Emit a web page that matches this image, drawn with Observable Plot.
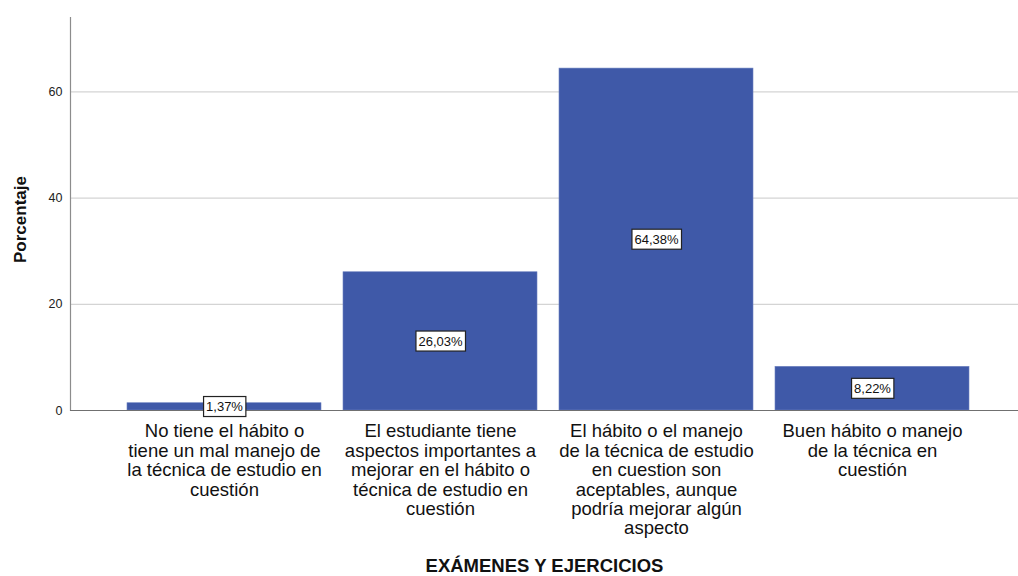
<!DOCTYPE html>
<html>
<head>
<meta charset="utf-8">
<script src="https://cdn.jsdelivr.net/npm/d3@7"></script>
<script src="https://cdn.jsdelivr.net/npm/@observablehq/plot@0.6"></script>
<style>
  html, body { margin: 0; padding: 0; background: #fff; }
  #chart svg { display: block; font-family: "Liberation Sans", Arial, sans-serif; }
</style>
</head>
<body>
<div id="chart"></div>
<script>
const categories = [
  "No tiene el hábito o tiene un mal manejo de la técnica de estudio en cuestión",
  "El estudiante tiene aspectos importantes a mejorar en el hábito o técnica de estudio en cuestión",
  "El hábito o el manejo de la técnica de estudio en cuestion son aceptables, aunque podría mejorar algún aspecto",
  "Buen hábito o manejo de la técnica en cuestión"
];
const categoryLines = [
  "No tiene el hábito o\ntiene un mal manejo de\nla técnica de estudio en\ncuestión",
  "El estudiante tiene\naspectos importantes a\nmejorar en el hábito o\ntécnica de estudio en\ncuestión",
  "El hábito o el manejo\nde la técnica de estudio\nen cuestion son\naceptables, aunque\npodría mejorar algún\naspecto",
  "Buen hábito o manejo\nde la técnica en\ncuestión"
];
const percentages = [1.37, 26.03, 64.38, 8.22];
const valueLabels = ["1,37%", "26,03%", "64,38%", "8,22%"];
const yTicks = [0, 20, 40, 60];
const xTitle = "EXÁMENES Y EJERCICIOS";
const yTitle = "Porcentaje";

const data = categories.map((c, i) => ({cat: c, value: percentages[i], label: valueLabels[i]}));
const lineMap = new Map(categories.map((c, i) => [c, categoryLines[i]]));

const chart = Plot.plot({
  width: 1018,
  height: 576,
  marginLeft: 70,
  marginRight: 0,
  marginTop: 17,
  marginBottom: 166,
  style: {fontFamily: "'Liberation Sans', Arial, sans-serif", color: "#222", background: "#fff"},
  x: {domain: categories, range: [79, 1016.5], paddingInner: 0.102, paddingOuter: 0.22, label: null},
  y: {domain: [0, 74], label: null},
  marks: [
    Plot.gridY(yTicks, {stroke: "#d4d4d4", strokeOpacity: 1, strokeWidth: 1.2}),
    Plot.barY(data, {x: "cat", y: "value", fill: "#3f59a8", stroke: "#6b80bf", strokeWidth: 0.6}),
    Plot.frame({anchor: "left", stroke: "#8c8c8c", strokeWidth: 1.2}),
    Plot.ruleY([0], {stroke: "#707070", strokeWidth: 1.2}),
    Plot.axisY(yTicks, {tickSize: 0, tickPadding: 8, fontSize: 12.5, label: null, fill: "#222"}),
    Plot.axisX({tickSize: 0, tickPadding: 13, fontSize: 18.5, lineHeight: 1.05, label: null,
      tickFormat: d => lineMap.get(d), fill: "#111"}),
    Plot.text(data, {x: "cat", y: d => d.value / 2, text: "label", fontSize: 13, fill: "#111",
      className: "vlabel"}),
    Plot.text([xTitle], {frameAnchor: "bottom", dy: 155.5, lineAnchor: "middle", fontWeight: "bold", fontSize: 18.5, fill: "#111"}),
    Plot.text([yTitle], {frameAnchor: "left", rotate: -90, textAnchor: "middle", lineAnchor: "middle", dx: -50, dy: 5.5, fontWeight: "bold", fontSize: 17, fill: "#111"})
  ]
});
document.getElementById("chart").appendChild(chart);

// draw boxes around value labels
d3.select(chart).selectAll("g.vlabel text").each(function() {
  const bb = this.getBBox();
  const t = this.getAttribute("transform");
  const rect = document.createElementNS("http://www.w3.org/2000/svg", "rect");
  rect.setAttribute("x", bb.x - 2.5);
  rect.setAttribute("y", bb.y - 2.5);
  rect.setAttribute("width", bb.width + 5);
  rect.setAttribute("height", bb.height + 5);
  rect.setAttribute("fill", "#fff");
  rect.setAttribute("stroke", "#222");
  rect.setAttribute("stroke-width", "1.2");
  if (t) rect.setAttribute("transform", t);
  this.parentNode.insertBefore(rect, this);
});
</script>
</body>
</html>
